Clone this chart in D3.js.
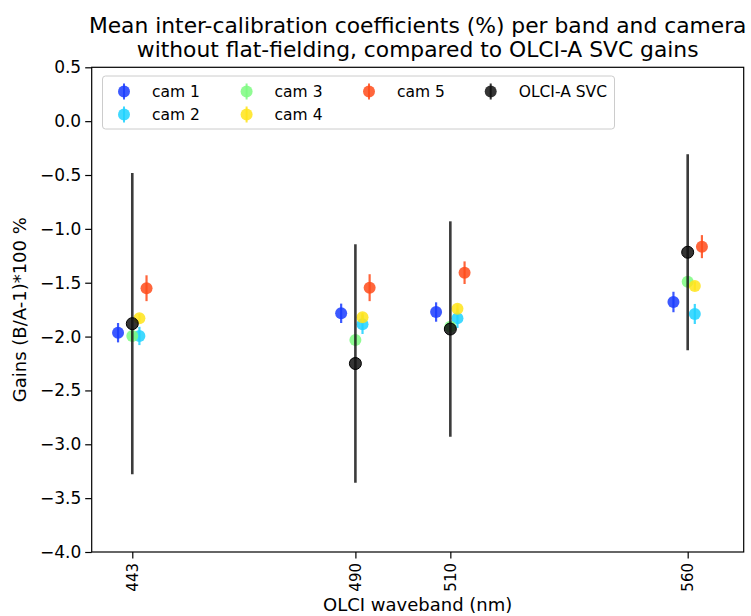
<!DOCTYPE html>
<html>
<head>
<meta charset="utf-8">
<script src="https://cdn.jsdelivr.net/npm/d3@7"></script>
<style>
  body { margin: 0; background: #fff; }
  svg text { font-family: "DejaVu Sans", sans-serif; fill: #000; }
</style>
</head>
<body>
<div id="chart"></div>
<script>
// OLCI wavebands (nm)
const bands = [443, 490, 510, 560];
const yTicks = [0.5, 0.0, -0.5, -1.0, -1.5, -2.0, -2.5, -3.0, -3.5, -4.0];

// camera series: x offset from band (nm), mean gain, error
const cameras = ["cam 1", "cam 2", "cam 3", "cam 4", "cam 5"];
const camColors = ["#1a3cff", "#1ed2ff", "#7dfa80", "#ffe41a", "#ff4b1a"];
const camOffsets = [-3, 1.5, 0, 1.5, 3];
const cam1 = [-1.964, -1.784, -1.772, -1.679];
const cam2 = [-1.994, -1.886, -1.830, -1.790];
const cam3 = [-1.994, -2.032, -1.908, -1.490];
const cam4 = [-1.830, -1.821, -1.741, -1.530];
const cam5 = [-1.551, -1.546, -1.407, -1.165];
const cam1Err = [0.09, 0.09, 0.09, 0.095];
const cam2Err = [0.085, 0.09, 0.09, 0.093];
const cam3Err = [0.04, 0.04, 0.04, 0.04];
const cam4Err = [0.04, 0.04, 0.04, 0.04];
const cam5Err = [0.12, 0.125, 0.105, 0.107];

// OLCI-A SVC gains
const svc = [-1.88, -2.25, -1.93, -1.217];
const svcErr = [1.398, 1.107, 1.0, 0.91];

const camValues = [cam1, cam2, cam3, cam4, cam5];
const camErrors = [cam1Err, cam2Err, cam3Err, cam4Err, cam5Err];

const width = 751, height = 616;
const margin = {left: 91.7, right: 7.3, top: 67.3, bottom: 64};

const svg = d3.select("#chart").append("svg")
  .attr("width", width)
  .attr("height", height);

const x = d3.scaleLinear()
  .domain([434.45, 571.8])
  .range([margin.left, width - margin.right]);

const y = d3.scaleLinear()
  .domain([-4.0, 0.5])
  .range([height - margin.bottom, margin.top]);

const plot = svg.append("g");

// camera error bars and markers
cameras.forEach((cam, i) => {
  const g = plot.append("g");
  bands.forEach((b, j) => {
    const cx = x(b + camOffsets[i]);
    const v = camValues[i][j], e = camErrors[i][j];
    g.append("line")
      .attr("x1", cx).attr("x2", cx)
      .attr("y1", y(v - e)).attr("y2", y(v + e))
      .attr("stroke", camColors[i])
      .attr("stroke-width", 2.2)
      .attr("opacity", 0.85);
    g.append("circle")
      .attr("cx", cx)
      .attr("cy", y(v))
      .attr("r", 6)
      .attr("fill", camColors[i])
      .attr("fill-opacity", 0.85);
  });
});

// SVC gains
bands.forEach((b, j) => {
  plot.append("line")
    .attr("x1", x(b)).attr("x2", x(b))
    .attr("y1", y(svc[j] - svcErr[j])).attr("y2", y(svc[j] + svcErr[j]))
    .attr("stroke", "#1a1a1a")
    .attr("stroke-width", 2.6)
    .attr("opacity", 0.85);
  plot.append("circle")
    .attr("cx", x(b))
    .attr("cy", y(svc[j]))
    .attr("r", 6)
    .attr("fill", "#111")
    .attr("fill-opacity", 0.85)
    .attr("stroke", "#000")
    .attr("stroke-width", 1);
});

// axes
const yAxis = d3.axisLeft(y)
  .tickValues(yTicks)
  .tickSize(6.5)
  .tickPadding(4)
  .tickFormat(d => d3.format(".1f")(d).replace("-", "\u2212"));

const xAxis = d3.axisBottom(x)
  .tickValues(bands)
  .tickSize(6.5)
  .tickFormat(d3.format("d"));

const gy = svg.append("g")
  .attr("transform", `translate(${margin.left},0)`)
  .call(yAxis);
gy.select(".domain").remove();
gy.selectAll("text").attr("font-size", 17).attr("font-family", "DejaVu Sans");
gy.selectAll("line").attr("stroke-width", 1.2);

const gx = svg.append("g")
  .attr("transform", `translate(0,${height - margin.bottom})`)
  .call(xAxis);
gx.select(".domain").remove();
gx.selectAll("line").attr("stroke-width", 1.2);
gx.selectAll("text")
  .attr("font-size", 15)
  .attr("font-family", "DejaVu Sans")
  .attr("transform", "rotate(-90)")
  .attr("text-anchor", "end")
  .attr("dy", "0.35em")
  .attr("x", -11)
  .attr("y", 0);

// frame
svg.append("rect")
  .attr("x", margin.left)
  .attr("y", margin.top)
  .attr("width", width - margin.left - margin.right)
  .attr("height", height - margin.top - margin.bottom)
  .attr("fill", "none")
  .attr("stroke", "#000")
  .attr("stroke-width", 1.2);

// titles
const cx0 = (margin.left + width - margin.right) / 2;
svg.append("text")
  .attr("x", cx0).attr("y", 33)
  .attr("text-anchor", "middle")
  .attr("font-size", 21.8)
  .text("Mean inter-calibration coefficients (%) per band and camera");
svg.append("text")
  .attr("x", cx0).attr("y", 57)
  .attr("text-anchor", "middle")
  .attr("font-size", 21.8)
  .text("without flat-fielding, compared to OLCI-A SVC gains");

svg.append("text")
  .attr("x", cx0).attr("y", 611)
  .attr("text-anchor", "middle")
  .attr("font-size", 18)
  .text("OLCI waveband (nm)");

svg.append("text")
  .attr("transform", `translate(26,${(margin.top + height - margin.bottom) / 2}) rotate(-90)`)
  .attr("text-anchor", "middle")
  .attr("font-size", 18)
  .text("Gains (B/A-1)*100 %");

// legend
const legend = svg.append("g");
legend.append("rect")
  .attr("x", 102.5).attr("y", 76)
  .attr("width", 512).attr("height", 53)
  .attr("rx", 3)
  .attr("fill", "#fff")
  .attr("fill-opacity", 0.8)
  .attr("stroke", "#ccc");

const legendItems = cameras.map((c, i) => ({label: c, color: camColors[i]}))
  .concat([{label: "OLCI-A SVC", color: "#111"}]);
// column/row slot of each entry (4 columns, first two hold two entries)
const legendCol = [0, 0, 1, 1, 2, 3];
const legendRow = [0, 1, 0, 1, 0, 0];
const colX = [124, 246.6, 369, 490.7];
const rowY = [91.5, 114.5];
legendItems.forEach((d, i) => {
  const lx = colX[legendCol[i]], ly = rowY[legendRow[i]];
  legend.append("line")
    .attr("x1", lx).attr("x2", lx)
    .attr("y1", ly - 8).attr("y2", ly + 8)
    .attr("stroke", d.color).attr("stroke-width", 2).attr("opacity", 0.85);
  legend.append("circle")
    .attr("cx", lx).attr("cy", ly).attr("r", 6)
    .attr("fill", d.color).attr("fill-opacity", 0.85);
  legend.append("text")
    .attr("x", lx + 28).attr("y", ly)
    .attr("dy", "0.35em")
    .attr("font-size", 15.5)
    .text(d.label);
});
</script>
</body>
</html>
